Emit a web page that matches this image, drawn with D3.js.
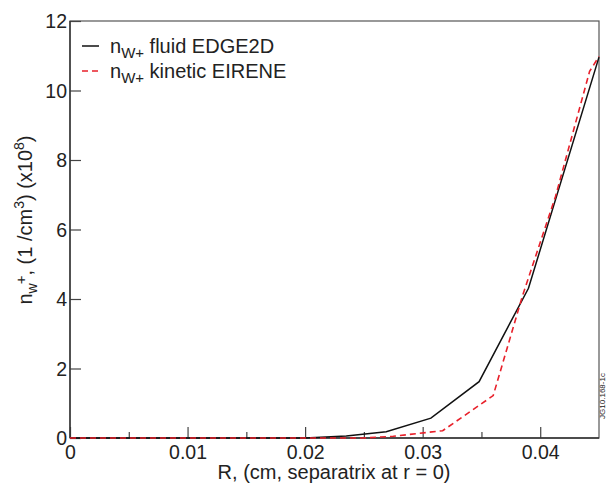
<!DOCTYPE html>
<html>
<head>
<meta charset="utf-8">
<script src="https://cdn.jsdelivr.net/npm/d3@7"></script>
<style>
  body { margin: 0; background: #fff; }
  text { font-family: "Liberation Sans", Arial, sans-serif; fill: #222; }
</style>
</head>
<body>
<svg id="chart" width="606" height="485"></svg>
<script>
// fluid EDGE2D curve
const rFluid = [0, 0.005, 0.01, 0.015, 0.02, 0.0235, 0.0269, 0.0307, 0.0348, 0.039, 0.045]
const nFluid = [0, 0, 0, 0, 0, 0.06, 0.18, 0.57, 1.62, 4.31, 10.96]
// kinetic EIRENE curve
const rKinetic = [0, 0.005, 0.01, 0.015, 0.02, 0.025, 0.0275, 0.0317, 0.036, 0.0385, 0.0413, 0.0442, 0.045]
const nKinetic = [0, 0, 0, 0, 0, 0, 0.05, 0.21, 1.22, 4.1, 6.95, 10.55, 10.98]

const xMajor = [0, 0.01, 0.02, 0.03, 0.04]
const xMinor = [0.005, 0.015, 0.025, 0.035]
const yTicks = [0, 2, 4, 6, 8, 10, 12]

const mLeft = 70, mTop = 21, mRight = 599, mBottom = 438

const svg = d3.select("#chart")

let x = d3.scaleLinear().domain([0, 0.045]).range([mLeft, mRight])
let y = d3.scaleLinear().domain([0, 12]).range([mBottom, mTop])

// frame
svg.append("rect")
  .attr("x", mLeft).attr("y", mTop)
  .attr("width", mRight - mLeft).attr("height", mBottom - mTop)
  .attr("fill", "none").attr("stroke", "#555").attr("stroke-width", 1.2)

// x axis, ticks pointing inward
let xAxis = svg.append("g")
  .attr("transform", `translate(0,${mBottom})`)
  .call(d3.axisBottom(x).tickValues(xMajor).tickSize(-11).tickPadding(7)
    .tickFormat(d => d === 0 ? "0" : d3.format(".2f")(d)))
let xMinorAxis = svg.append("g")
  .attr("transform", `translate(0,${mBottom})`)
  .call(d3.axisBottom(x).tickValues(xMinor).tickSize(-6).tickFormat(""))

let yAxis = svg.append("g")
  .attr("transform", `translate(${mLeft},0)`)
  .call(d3.axisLeft(y).tickValues(yTicks).tickSize(-11).tickPadding(3))

svg.selectAll(".domain").remove()
svg.selectAll(".tick line").attr("stroke", "#444").attr("stroke-width", 1.2)
svg.selectAll(".tick text").attr("font-size", 19.5).attr("fill", "#222")
  .style("font-family", "Liberation Sans, Arial, sans-serif")
xAxis.selectAll(".tick text").attr("dy", "0.71em")
yAxis.selectAll(".tick text").attr("dy", "0.35em")

// darker left / bottom axis lines
svg.append("line").attr("x1", mLeft).attr("x2", mLeft).attr("y1", mTop).attr("y2", mBottom)
  .attr("stroke", "#333").attr("stroke-width", 1.4)
svg.append("line").attr("x1", mLeft).attr("x2", mRight).attr("y1", mBottom).attr("y2", mBottom)
  .attr("stroke", "#333").attr("stroke-width", 1.4)

let line = d3.line().x(d => x(d[0])).y(d => y(d[1]))

svg.append("path")
  .datum(rFluid.map((r, i) => [r, nFluid[i]]))
  .attr("d", line)
  .attr("fill", "none").attr("stroke", "#111").attr("stroke-width", 1.5)

svg.append("path")
  .datum(rKinetic.map((r, i) => [r, nKinetic[i]]))
  .attr("d", line)
  .attr("fill", "none").attr("stroke", "#e8202a").attr("stroke-width", 1.6)
  .attr("stroke-dasharray", "6,4")

// legend
const legend = [
  {label: " fluid EDGE2D", color: "#111", dash: null, y: 46},
  {label: " kinetic EIRENE", color: "#e8202a", dash: "6,4", y: 71}
]
legend.forEach(l => {
  svg.append("line")
    .attr("x1", 82).attr("x2", 99).attr("y1", l.y).attr("y2", l.y)
    .attr("stroke", l.color).attr("stroke-width", 1.5)
    .attr("stroke-dasharray", l.dash)
  let t = svg.append("text").attr("x", 110).attr("y", l.y + 7).attr("font-size", 20)
  t.append("tspan").text("n")
  t.append("tspan").attr("dy", 5).attr("font-size", 15).text("W+")
  t.append("tspan").attr("dy", -5).text(l.label)
})

// axis labels
svg.append("text")
  .attr("x", 334).attr("y", 479)
  .attr("text-anchor", "middle").attr("font-size", 20)
  .text("R, (cm, separatrix at r = 0)")

let yl = svg.append("text")
  .attr("transform", "translate(32,220) rotate(-90)")
  .attr("text-anchor", "middle").attr("font-size", 20)
yl.append("tspan").text("n")
yl.append("tspan").attr("dy", 5).attr("font-size", 14).text("w")
yl.append("tspan").attr("dy", -11).attr("dx", -1).attr("font-size", 15).text("+")
yl.append("tspan").attr("dy", 6).text(", (1 /cm")
yl.append("tspan").attr("dy", -8).attr("font-size", 14).text("3")
yl.append("tspan").attr("dy", 8).text(") (x10")
yl.append("tspan").attr("dy", -8).attr("font-size", 14).text("8")
yl.append("tspan").attr("dy", 8).text(")")

// figure id
svg.append("text")
  .attr("transform", "translate(605,396) rotate(-90)")
  .attr("text-anchor", "middle").attr("font-size", 8).attr("fill", "#333")
  .text("JG10.168-1c")
</script>
</body>
</html>
